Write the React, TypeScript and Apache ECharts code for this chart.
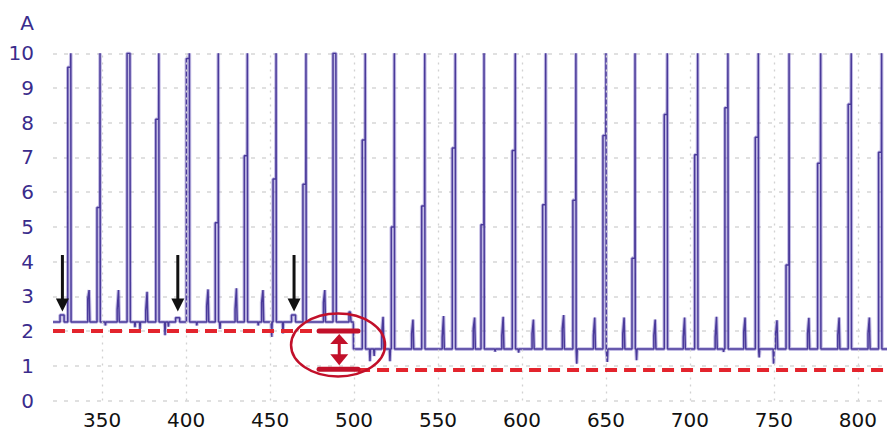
import React, { useEffect, useRef } from "react";
import * as echarts from "echarts";

// ---------- axes ----------
const xTickValues = [350, 400, 450, 500, 550, 600, 650, 700, 750, 800];
const xRange = [320.8, 817.3];
const yRange = [0, 10];
const yAxisName = "A";

// ---------- trace features ----------
const baselineBefore = 2.26;
const baselineAfter = 1.48;
const levelDropX = 499.6;

const bigSpikeX = [331.4, 348.8, 366.7, 383.8, 402.0, 419.2, 436.5, 453.6, 471.4, 489.3, 506.7, 524.0, 542.1, 560.3, 577.4, 596.0, 614.1, 632.1, 650.0, 667.3, 686.5, 704.6, 722.6, 740.7, 759.0, 777.8, 796.0, 814.1];
const bigSpikeStep = [9.6, 5.56, 10, 8.1, 9.85, 5.12, 7.05, 6.38, 6.23, 10, 7.5, 5.0, 5.6, 7.27, 5.06, 7.2, 5.64, 5.77, 7.63, 4.1, 8.24, 7.08, 8.43, 7.58, 3.9, 6.83, 8.53, 7.15];
const bigSpikePeak = 10;

const smallSpikeX = [342.5, 360.0, 377.0, 413.3, 430.2, 446.0, 482.8, 498.0, 517.5, 535.3, 553.5, 572.0, 589.0, 607.0, 625.0, 643.5, 661.0, 679.5, 697.0, 716.0, 733.0, 752.0, 771.0, 789.0, 807.0];
const smallSpikePeak = [3.18, 3.18, 3.13, 3.2, 3.23, 3.18, 3.18, 2.55, 2.41, 2.33, 2.43, 2.39, 2.41, 2.33, 2.46, 2.39, 2.39, 2.33, 2.39, 2.41, 2.39, 2.31, 2.38, 2.39, 2.39];
const smallSpikeShoulder = [2.93, 2.63, 2.58, 2.73, 2.63, 2.83, 2.83, 2.55, 1.93, 1.93, 1.83, 2.07, 1.88, 1.93, 2.07, 1.88, 1.93, 1.88, 1.83, 1.83, 1.98, 1.93, 1.93, 1.88, 1.93];

const bumpX = [326.2, 395.0, 464.0];
const bumpPeak = [2.46, 2.38, 2.46];

const dipX = [352.0, 369.6, 372.6, 387.5, 389.5, 406.4, 420.2, 443.0, 451.0, 457.7, 509.5, 512.0, 521.4, 584.0, 598.0, 632.6, 650.8, 668.2, 720.0, 741.2, 749.8];
const dipLow = [2.16, 2.11, 2.06, 1.88, 2.13, 2.16, 2.06, 2.16, 1.83, 1.93, 1.13, 1.28, 1.13, 1.41, 1.38, 1.06, 1.11, 1.16, 1.4, 1.24, 1.06];

// ---------- annotations (data units) ----------
const refLevelBefore = 2.0;
const refLevelAfter = 0.9;
const refBeforeRange = [320.8, 475.6];
const refAfterRange = [502.4, 817.3];
const bracketRange = [479.2, 502.4];
const doubleArrowX = 491.2;
const ellipseCenter = [490.5, 1.6];
const arrowX = [326.4, 395.1, 464.3];
const arrowTop = 4.19;
const arrowTip = 2.56;

function baseAt(x: number) {
  return x < levelDropX ? baselineBefore : baselineAfter;
}

function buildTrace(): [number, number][] {
  const events: { x: number; pts: [number, number][] }[] = [];
  bigSpikeX.forEach((a, i) => {
    const b = baseAt(a);
    const m = bigSpikeStep[i];
    events.push({
      x: a - 1.8,
      pts: [[a - 1.8, b], [a - 1.8, m], [a - 0.1, m], [a, bigSpikePeak], [a + 0.15, bigSpikePeak], [a + 0.15, b]],
    });
  });
  smallSpikeX.forEach((s, i) => {
    const b = baseAt(s);
    events.push({
      x: s - 1,
      pts: [[s - 1, b], [s - 1, smallSpikeShoulder[i]], [s - 0.2, smallSpikePeak[i]], [s + 0.15, smallSpikePeak[i]], [s + 0.25, b]],
    });
  });
  bumpX.forEach((s, i) => {
    const b = baseAt(s);
    events.push({ x: s - 1.2, pts: [[s - 1.2, b], [s - 1.2, bumpPeak[i]], [s + 1.2, bumpPeak[i]], [s + 1.2, b]] });
  });
  dipX.forEach((d, i) => {
    const b = baseAt(d);
    events.push({ x: d - 0.3, pts: [[d - 0.3, b], [d, dipLow[i]], [d + 0.3, b]] });
  });
  events.push({ x: levelDropX, pts: [[levelDropX, baselineBefore], [levelDropX + 0.1, baselineAfter]] });
  events.sort((p, q) => p.x - q.x);
  const out: [number, number][] = [[xRange[0], baselineBefore]];
  events.forEach((e) => out.push(...e.pts));
  out.push([xRange[1], baselineAfter]);
  return out;
}

const traceData = buildTrace();

export default function App() {
  const ref = useRef<HTMLDivElement>(null);
  useEffect(() => {
    if (!ref.current) return;
    const chart = echarts.init(ref.current, undefined, { renderer: "svg" });
    const font = "DejaVu Sans";
    chart.setOption({
      animation: false,
      grid: { left: 53, right: 0, top: 53.3, bottom: 29.5 },
      xAxis: {
        type: "value",
        min: xRange[0],
        max: xRange[1],
        axisLine: { show: false },
        axisTick: { show: false },
        splitLine: { show: false },
        axisLabel: {
          customValues: xTickValues,
          color: "#111",
          fontSize: 20,
          lineHeight: 16,
          fontFamily: font,
          margin: 11,
        },
      },
      yAxis: {
        type: "value",
        min: yRange[0],
        max: yRange[1],
        interval: 1,
        name: yAxisName,
        nameLocation: "end",
        nameGap: 20,
        nameTextStyle: { color: "#3a2c8c", fontSize: 20, fontFamily: font, align: "right", padding: [0, 19, 0, 0] },
        axisLine: { show: false },
        axisTick: { show: false },
        axisLabel: { color: "#3a2c8c", fontSize: 20, fontFamily: font, margin: 19 },
        splitLine: { show: true, lineStyle: { color: "#d6d6d6", width: 1.5, type: [4, 7] } },
      },
      series: [
        {
          type: "line",
          data: [],
          z: 1,
          silent: true,
          markLine: {
            silent: true,
            symbol: "none",
            label: { show: false },
            lineStyle: { color: "#d2d2d2", width: 1.3, type: [2, 5] },
            data: xTickValues.map((v) => ({ xAxis: v })),
          },
        },
        {
          type: "line",
          data: traceData,
          z: 2,
          showSymbol: false,
          silent: true,
          clip: true,
          lineStyle: { color: "rgba(120,105,195,0.45)", width: 3.6 },
        },
        {
          type: "line",
          data: traceData,
          z: 3,
          showSymbol: false,
          silent: true,
          clip: true,
          lineStyle: { color: "#4a3a9a", width: 1.5 },
        },
        {
          type: "line",
          data: [],
          z: 5,
          silent: true,
          markLine: {
            silent: true,
            symbol: "none",
            label: { show: false },
            lineStyle: { color: "#e3242d", width: 4, type: [12, 7] },
            data: [
              [{ coord: [refBeforeRange[0], refLevelBefore] }, { coord: [refBeforeRange[1], refLevelBefore] }],
              [{ coord: [refAfterRange[0], refLevelAfter] }, { coord: [refAfterRange[1], refLevelAfter] }],
            ],
          },
        },
      ],
    });

    const px = (x: number, y: number) => chart.convertToPixel({ gridIndex: 0 }, [x, y]) as number[];
    const graphics: any[] = [];
    const dark = "#111111";
    arrowX.forEach((x) => {
      const t = px(x, arrowTop);
      const tip = px(x, arrowTip);
      graphics.push({ type: "line", shape: { x1: t[0], y1: t[1], x2: tip[0], y2: tip[1] - 10 }, style: { stroke: dark, lineWidth: 3 }, z: 10 });
      graphics.push({ type: "polygon", shape: { points: [[tip[0] - 6.5, tip[1] - 13], [tip[0] + 6.5, tip[1] - 13], [tip[0], tip[1]]] }, style: { fill: dark }, z: 10 });
    });
    const red = "#c2102a";
    const b0 = px(bracketRange[0], refLevelBefore);
    const b1 = px(bracketRange[1], refLevelBefore);
    const c0 = px(bracketRange[0], refLevelAfter);
    const c1 = px(bracketRange[1], refLevelAfter);
    graphics.push({ type: "line", shape: { x1: b0[0], y1: b0[1], x2: b1[0], y2: b1[1] }, style: { stroke: red, lineWidth: 5, lineCap: "round" }, z: 10 });
    graphics.push({ type: "line", shape: { x1: c0[0], y1: c0[1], x2: c1[0], y2: c1[1] }, style: { stroke: red, lineWidth: 5, lineCap: "round" }, z: 10 });
    const up = px(doubleArrowX, refLevelBefore);
    const dn = px(doubleArrowX, refLevelAfter);
    const ax = up[0];
    graphics.push({ type: "polygon", shape: { points: [[ax, up[1] + 3], [ax - 9, up[1] + 13], [ax + 9, up[1] + 13]] }, style: { fill: red }, z: 10 });
    graphics.push({ type: "polygon", shape: { points: [[ax, dn[1] - 4], [ax - 9, dn[1] - 15], [ax + 9, dn[1] - 15]] }, style: { fill: red }, z: 10 });
    graphics.push({ type: "line", shape: { x1: ax, y1: up[1] + 12, x2: ax, y2: dn[1] - 14 }, style: { stroke: red, lineWidth: 3 }, z: 10 });
    const ec = px(ellipseCenter[0], ellipseCenter[1]);
    graphics.push({ type: "ellipse", shape: { cx: ec[0], cy: ec[1], rx: 47, ry: 31.5 }, style: { fill: "none", stroke: red, lineWidth: 2.5 }, z: 10 });
    chart.setOption({ graphic: graphics });

    return () => chart.dispose();
  }, []);
  return <div ref={ref} style={{ position: "absolute", left: 0, top: 0, width: 887, height: 430 }} />;
}
